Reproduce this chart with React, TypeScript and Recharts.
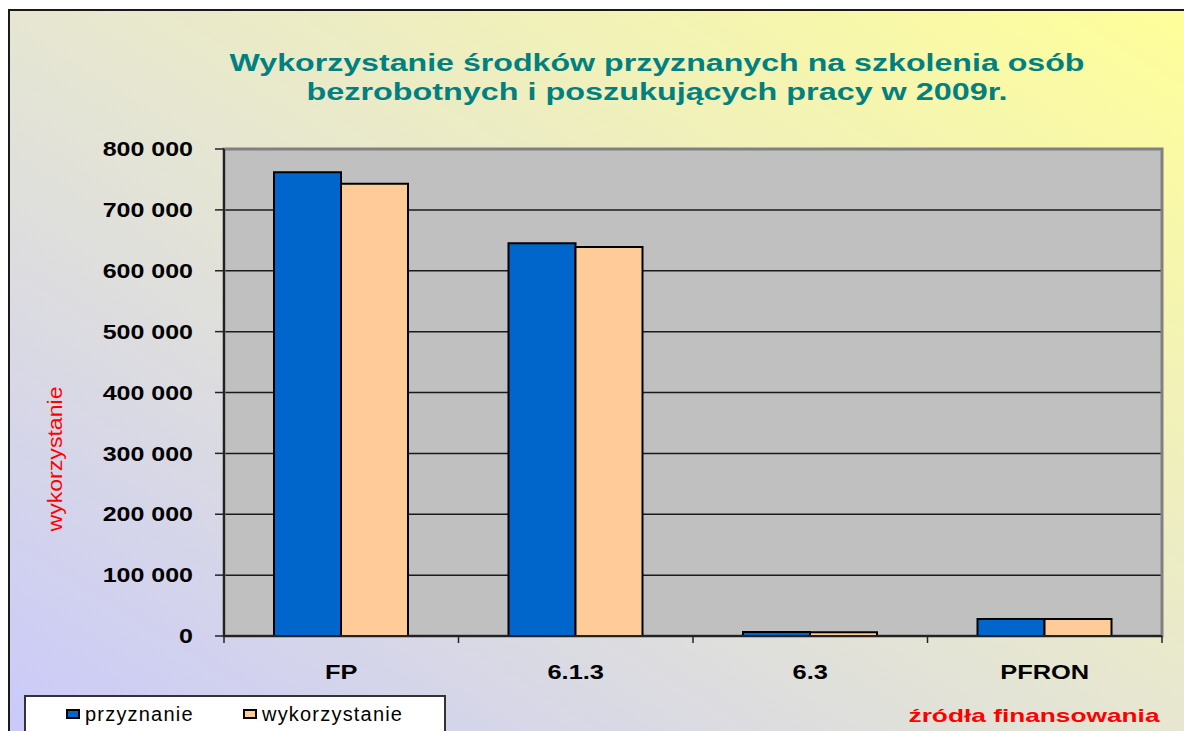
import React from "react";
import {
  BarChart,
  Bar,
  XAxis,
  YAxis,
  CartesianGrid,
  ReferenceArea,
  Legend,
} from "recharts";

// values (PLN)
const categories = ["FP", "6.1.3", "6.3", "PFRON"];
const przyznanie = [762000, 645000, 6500, 28000];
const wykorzystanie = [743000, 639000, 6000, 28000];
const yTicks = [0, 100000, 200000, 300000, 400000, 500000, 600000, 700000, 800000];

const titleLines = [
  "Wykorzystanie środków przyznanych na szkolenia osób",
  "bezrobotnych i poszukujących pracy w 2009r.",
];
const yLabel = "wykorzystanie";
const xLabel = "źródła finansowania";

const data = categories.map((name, i) => ({
  name,
  przyznanie: przyznanie[i],
  wykorzystanie: wykorzystanie[i],
}));

const BLUE = "#0066CC";
const PEACH = "#FFCC99";
const TEAL = "#008080";
const RED = "#FF0000";
const FONT = "'Liberation Sans', Arial, sans-serif";

const CHART_W = 1174;
const CHART_H = 720;
const Y_AXIS_W = 214;
const MARGIN = { top: 138, right: 22, left: 0, bottom: 0 };
const BAND = (CHART_W - Y_AXIS_W - MARGIN.right) / categories.length;

const fmt = (v: number) => String(v).replace(/\B(?=(\d{3})+(?!\d))/g, " ");

// the source picture is stretched sideways, so the labels get widened too
const stretch = (x: number, k: number) => `translate(${x} 0) scale(${k} 1) translate(${-x} 0)`;

const ValueTick = (props: any) => {
  const { x, y, payload } = props;
  return (
    <text
      x={x}
      y={y}
      dy="0.36em"
      textAnchor="end"
      transform={stretch(x, 1.25)}
      fontFamily={FONT}
      fontWeight="bold"
      fontSize={20}
      fill="#000"
    >
      {fmt(payload.value)}
    </text>
  );
};

const CategoryTick = (props: any) => {
  const { x, y, payload, index } = props;
  const half = BAND / 2;
  return (
    <g>
      <line x1={x - half} x2={x - half} y1={y} y2={y + 7} stroke="#222" strokeWidth={1.5} />
      {index === categories.length - 1 && (
        <line x1={x + half} x2={x + half} y1={y} y2={y + 7} stroke="#222" strokeWidth={1.5} />
      )}
      <text
        x={x}
        y={y + 43}
        textAnchor="middle"
        transform={stretch(x, 1.27)}
        fontFamily={FONT}
        fontWeight="bold"
        fontSize={20}
        fill="#000"
      >
        {payload.value}
      </text>
    </g>
  );
};

const LEGEND_X = [40, 217];

const LegendBox = ({ payload }: any) => (
  <div
    style={{
      position: "relative",
      width: 422,
      height: 60,
      boxSizing: "border-box",
      border: "2px solid #333",
      background: "#fff",
    }}
  >
    {(payload || []).map((p: any, i: number) => (
      <div
        key={p.value}
        style={{
          position: "absolute",
          left: LEGEND_X[i],
          top: 7,
          height: 20,
          display: "flex",
          alignItems: "center",
          fontFamily: FONT,
          fontSize: 20,
          lineHeight: "20px",
          letterSpacing: 1.2,
          color: "#000",
          whiteSpace: "nowrap",
        }}
      >
        <span
          style={{
            display: "inline-block",
            width: 14,
            height: 10,
            boxSizing: "border-box",
            border: "2px solid #000",
            background: p.color,
            marginRight: 5,
          }}
        />
        {p.value}
      </div>
    ))}
  </div>
);

export default function App() {
  return (
    <div
      style={{
        position: "fixed",
        left: 0,
        top: 0,
        width: 1184,
        height: 731,
        overflow: "hidden",
        background: "#fff",
      }}
    >
      <div
        style={{
          position: "absolute",
          left: 8,
          top: 9,
          width: 1190,
          height: 740,
          boxSizing: "border-box",
          borderTop: "2px solid #1a1a1a",
          borderLeft: "2px solid #1a1a1a",
          background: "linear-gradient(to top right, #C9C9FB 0%, #E6E6D2 50%, #FFFF99 100%)",
        }}
      />
      <div style={{ position: "absolute", left: 10, top: 11 }}>
        <BarChart width={CHART_W} height={CHART_H} data={data} margin={MARGIN} barGap={0}>
          <CartesianGrid
            horizontal
            vertical={false}
            stroke="#1a1a1a"
            strokeWidth={1.5}
            fill="#C0C0C0"
            fillOpacity={1}
          />
          <ReferenceArea y1={0} y2={800000} fill="none" stroke="#808080" strokeWidth={3} />
          <XAxis
            dataKey="name"
            height={95}
            axisLine={{ stroke: "#222", strokeWidth: 2 }}
            tickLine={false}
            tickSize={0}
            tickMargin={0}
            interval={0}
            tick={<CategoryTick />}
          />
          <YAxis
            width={Y_AXIS_W}
            domain={[0, 800000]}
            ticks={yTicks}
            interval={0}
            axisLine={{ stroke: "#222", strokeWidth: 2 }}
            tickLine={{ stroke: "#222", strokeWidth: 1.5 }}
            tickSize={9}
            tickMargin={22}
            tick={<ValueTick />}
          />
          <Bar dataKey="przyznanie" name="przyznanie" fill={BLUE} stroke="#000" strokeWidth={2} barSize={67} isAnimationActive={false} />
          <Bar dataKey="wykorzystanie" name="wykorzystanie" fill={PEACH} stroke="#000" strokeWidth={2} barSize={67} isAnimationActive={false} />
          <Legend
            layout="horizontal"
            verticalAlign="middle"
            align="center"
            content={<LegendBox />}
            wrapperStyle={{ left: 14, top: 684, width: 422, height: 60 }}
          />
        </BarChart>
      </div>
      <svg
        width={1184}
        height={731}
        style={{ position: "absolute", left: 0, top: 0, pointerEvents: "none" }}
      >
        <text x={657} y={71} textAnchor="middle" textLength={855} lengthAdjust="spacingAndGlyphs"
          fontFamily={FONT} fontWeight="bold" fontSize={24} fill={TEAL}>
          {titleLines[0]}
        </text>
        <text x={657} y={100} textAnchor="middle" textLength={701} lengthAdjust="spacingAndGlyphs"
          fontFamily={FONT} fontWeight="bold" fontSize={24} fill={TEAL}>
          {titleLines[1]}
        </text>
        <text x={62} y={459} textAnchor="middle" textLength={145} lengthAdjust="spacingAndGlyphs"
          transform="rotate(-90 62 459)" fontFamily={FONT} fontSize={20} fill={RED}>
          {yLabel}
        </text>
        <text x={1034} y={722} textAnchor="middle" textLength={251} lengthAdjust="spacingAndGlyphs"
          fontFamily={FONT} fontWeight="bold" fontSize={19} fill={RED}>
          {xLabel}
        </text>
      </svg>
    </div>
  );
}
